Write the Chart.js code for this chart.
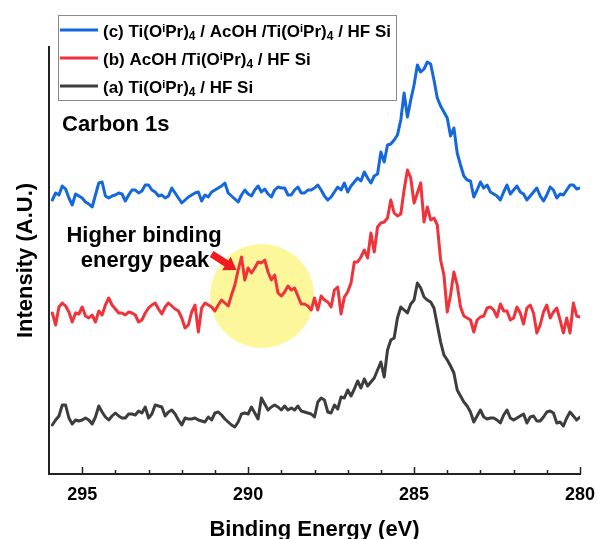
<!DOCTYPE html>
<html>
<head>
<meta charset="utf-8">
<script src="https://cdn.jsdelivr.net/npm/chart.js@4.4.1/dist/chart.umd.min.js"></script>
<style>
html,body{margin:0;padding:0;background:#fff;}
canvas{display:block;}
</style>
</head>
<body>
<canvas id="c" width="597" height="539"></canvas>
<script>
// ---- sampling grid (binding energy, eV) ----
const energyStart = 295.9;
const energyStep = 0.1;

// ---- series (arbitrary intensity units), 160 points each ----
const seriesC = [274,281,279,288,285,276,269,280,278,276,272,270,267,279,291,292,278,276,278,279,
281,280,273,279,284,284,281,283,289,289,284,282,278,279,276,278,286,281,276,271,
274,277,279,281,282,273,279,277,282,284,286,288,291,281,278,275,272,279,284,280,
278,284,288,282,285,280,277,284,287,286,286,279,279,284,287,281,281,284,284,286,
289,284,278,274,277,282,287,284,291,282,288,292,296,293,302,296,291,298,300,322,
312,329,330,334,339,354,381,357,374,389,409,402,405,412,410,394,376,368,362,356,
338,346,321,309,298,294,293,277,284,292,286,289,282,280,278,274,282,289,280,284,
288,282,280,274,278,282,286,278,273,279,287,284,276,280,279,284,289,289,285,286];

const seriesB = [161,149,167,171,168,162,152,161,160,167,158,156,159,152,163,159,169,176,169,165,
161,161,159,162,161,159,152,154,161,166,169,171,165,160,167,171,168,165,163,156,
146,149,162,169,142,166,171,169,167,163,169,174,171,168,179,189,204,217,194,206,
201,206,212,211,214,202,194,199,181,178,182,188,184,186,178,170,170,168,164,176,
164,178,174,172,167,184,187,160,177,182,191,212,212,217,224,216,241,222,247,251,
252,256,274,261,258,260,284,304,296,271,281,291,252,267,254,256,249,214,199,162,
179,202,189,167,158,156,154,142,154,157,158,166,167,164,157,170,163,163,154,156,
167,161,150,166,169,161,141,149,162,169,156,162,166,154,141,156,141,171,158,157];

const seriesA = [49,54,58,69,69,56,50,54,53,54,56,54,50,57,68,62,57,54,58,61,
58,56,56,60,60,59,63,61,67,56,60,69,68,67,58,62,64,60,54,49,
56,55,55,56,54,53,52,57,54,61,62,59,55,52,49,47,52,60,61,60,
67,61,55,76,70,64,67,69,67,64,68,64,66,64,68,63,62,61,60,57,
72,76,74,62,61,69,65,77,76,84,78,85,93,86,95,88,92,96,104,112,
97,124,134,136,156,167,164,161,170,174,191,186,177,174,172,166,149,132,119,114,
108,101,84,78,72,68,62,52,58,64,57,55,56,56,54,51,59,64,56,54,
56,58,60,51,57,58,53,53,57,62,63,61,51,52,48,56,62,58,54,57];

const seriesLabels = [
  '(c) Ti(O^iPr)_4 / AcOH /Ti(O^iPr)_4 / HF Si',
  '(b) AcOH /Ti(O^iPr)_4 / HF Si',
  '(a) Ti(O^iPr)_4 / HF Si'
];
const seriesColors = ['#1467dc', '#f0333b', '#3d3d3d'];
const xTickStep = 5;
const xMin = 280, xMax = 296;
const yMin = 0, yMax = 427;

const energies = seriesA.map((_, i) => +(energyStart - i * energyStep).toFixed(1));
const toPoints = arr => arr.map((v, i) => ({x: energies[i], y: v}));

const FONT = 'Arial, "Liberation Sans", Helvetica, sans-serif';
Chart.defaults.font.family = FONT;

// annotation placement (data coordinates / style), kept separate from data
const highlight = {e: 289.58, v: 178, r: 52, color: '#fcf79b'};
const arrow = {from: {e: 291.1, v: 220}, to: {e: 290.35, v: 204}};

function drawRich(ctx, str, x, y, size) {
  let cx = x;
  let i = 0;
  while (i < str.length) {
    const ch = str[i];
    if ((ch === '^' || ch === '_') && i + 1 < str.length) {
      const s = str[i + 1];
      const sz = ch === '^' ? 11 : 12;
      ctx.font = 'bold ' + sz + 'px ' + FONT;
      const dy = ch === '^' ? -5 : 3;
      ctx.fillText(s, cx, y + dy);
      cx += ctx.measureText(s).width;
      i += 2;
    } else {
      let j = i;
      while (j < str.length && str[j] !== '^' && str[j] !== '_') j++;
      const seg = str.slice(i, j);
      ctx.font = 'bold ' + size + 'px ' + FONT;
      ctx.fillText(seg, cx, y);
      cx += ctx.measureText(seg).width;
      i = j;
    }
  }
}

const decor = {
  id: 'decor',
  beforeDatasetsDraw(chart) {
    const {ctx, scales: {x, y}} = chart;
    ctx.save();
    ctx.fillStyle = highlight.color;
    ctx.beginPath();
    ctx.arc(x.getPixelForValue(highlight.e), y.getPixelForValue(highlight.v), highlight.r, 0, Math.PI * 2);
    ctx.fill();
    ctx.restore();
  },
  afterDraw(chart) {
    const {ctx, scales: {x, y}, chartArea} = chart;
    ctx.save();
    // inward tick marks
    ctx.strokeStyle = '#222';
    ctx.lineWidth = 1.5;
    for (let v = xMin; v <= xMax - 1; v++) {
      const px = Math.round(x.getPixelForValue(v)) + 0.5;
      const len = v % xTickStep === 0 ? 7 : 4;
      ctx.beginPath();
      ctx.moveTo(px, chartArea.bottom);
      ctx.lineTo(px, chartArea.bottom - len);
      ctx.stroke();
    }
    // arrow
    const x1 = x.getPixelForValue(arrow.from.e), y1 = y.getPixelForValue(arrow.from.v);
    const x2 = x.getPixelForValue(arrow.to.e), y2 = y.getPixelForValue(arrow.to.v);
    const ang = Math.atan2(y2 - y1, x2 - x1);
    const L = Math.hypot(x2 - x1, y2 - y1);
    ctx.translate(x1, y1);
    ctx.rotate(ang);
    ctx.fillStyle = '#ee1c22';
    ctx.beginPath();
    const hl = 12, hw = 8, sw = 3.5;
    ctx.moveTo(0, -sw);
    ctx.lineTo(L - hl, -sw);
    ctx.lineTo(L - hl, -hw);
    ctx.lineTo(L, 0);
    ctx.lineTo(L - hl, hw);
    ctx.lineTo(L - hl, sw);
    ctx.lineTo(0, sw);
    ctx.closePath();
    ctx.fill();
    ctx.setTransform(1, 0, 0, 1, 0, 0);

    // texts
    ctx.fillStyle = '#000';
    ctx.textBaseline = 'alphabetic';
    ctx.font = 'bold 22px ' + FONT;
    ctx.textAlign = 'left';
    ctx.fillText('Carbon 1s', 62, 131);
    ctx.textAlign = 'center';
    ctx.fillText('Higher binding', 144, 242);
    ctx.fillText('energy peak', 145, 267);

    // legend
    ctx.textAlign = 'left';
    ctx.strokeStyle = '#8a8a8a';
    ctx.lineWidth = 1;
    ctx.strokeRect(58.5, 15.5, 338, 85);
    const rows = [30, 58, 86];
    seriesLabels.forEach((lab, k) => {
      ctx.strokeStyle = seriesColors[k];
      ctx.lineWidth = 3;
      ctx.beginPath();
      ctx.moveTo(60, rows[k]);
      ctx.lineTo(98, rows[k]);
      ctx.stroke();
      ctx.fillStyle = '#000';
      drawRich(ctx, lab, 103, rows[k] + 7, 17);
    });
    ctx.restore();
  }
};

const plain = s => s.replace(/\^i/g, 'ⁱ').replace(/_4/g, '₄');

new Chart(document.getElementById('c').getContext('2d'), {
  type: 'line',
  data: {
    datasets: [
      {label: plain(seriesLabels[2]), data: toPoints(seriesA), borderColor: seriesColors[2]},
      {label: plain(seriesLabels[1]), data: toPoints(seriesB), borderColor: seriesColors[1]},
      {label: plain(seriesLabels[0]), data: toPoints(seriesC), borderColor: seriesColors[0]}
    ]
  },
  options: {
    responsive: false,
    animation: false,
    devicePixelRatio: 1,
    layout: {padding: {top: 47, right: 17, left: 0, bottom: 0}},
    plugins: {legend: {display: false}, tooltip: {enabled: false}},
    elements: {
      point: {radius: 0},
      line: {tension: 0, borderWidth: 3, borderJoinStyle: 'round', borderCapStyle: 'round', fill: false}
    },
    scales: {
      x: {
        type: 'linear', min: xMin, max: xMax, reverse: true,
        afterFit(s) { s.height = 65; s.paddingLeft = 0; s.paddingRight = 0; },
        grid: {drawOnChartArea: false, drawTicks: false},
        border: {display: true, color: '#222', width: 2},
        ticks: {stepSize: xTickStep, includeBounds: false, padding: 10, color: '#000',
                font: {size: 18, weight: 'bold'}, maxRotation: 0, autoSkip: false},
        title: {display: true, text: 'Binding Energy (eV)', color: '#000',
                font: {size: 22, weight: 'bold', lineHeight: 0.8}, padding: {top: 0, bottom: 0}}
      },
      y: {
        min: yMin, max: yMax,
        afterFit(s) { s.width = 49; s.paddingTop = 0; s.paddingBottom = 0; },
        grid: {drawOnChartArea: false, drawTicks: false},
        border: {display: true, color: '#222', width: 2},
        ticks: {display: false},
        title: {display: true, text: 'Intensity (A.U.)', color: '#000',
                font: {size: 22, weight: 'bold', lineHeight: 0.8}, padding: {top: 17, bottom: 0}}
      }
    }
  },
  plugins: [decor]
});
</script>
</body>
</html>
